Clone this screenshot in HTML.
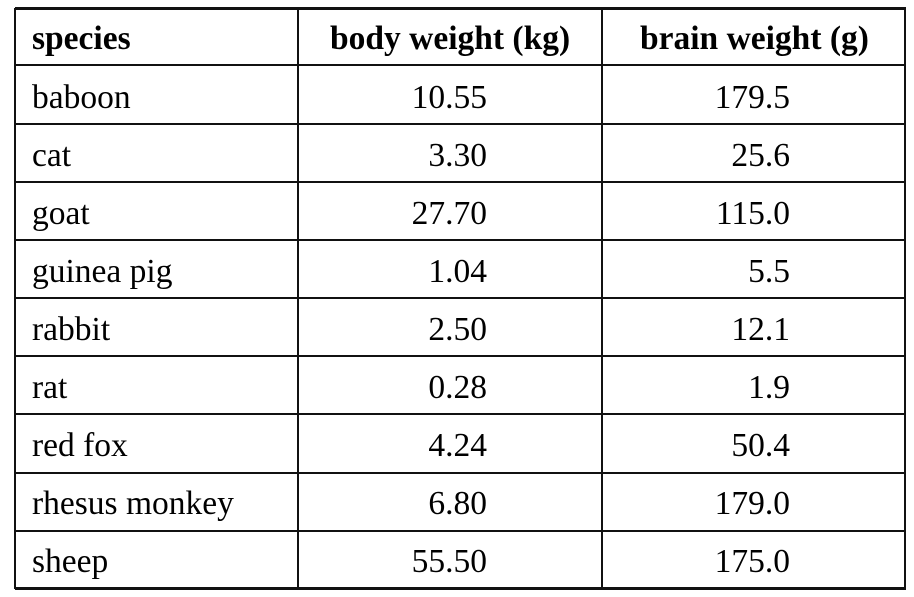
<!DOCTYPE html>
<html><head><style>
body{margin:0;width:914px;height:597px;background:#fff;position:relative;overflow:hidden;font-family:"Liberation Serif",serif;color:#000}
.h{position:absolute;left:15px;width:891px;height:2px;background:#111}
.v{position:absolute;top:8px;height:581px;width:2px;background:#111}
.t{position:absolute;font-size:33.5px;line-height:32px;white-space:pre}
.b{font-weight:bold}
.r2{right:427px;text-align:right}
.r3{right:124px;text-align:right}
</style></head><body>
<div class="h" style="top:7px;height:3px"></div>
<div class="h" style="top:64px"></div>
<div class="h" style="top:123px"></div>
<div class="h" style="top:181px"></div>
<div class="h" style="top:239px"></div>
<div class="h" style="top:297px"></div>
<div class="h" style="top:355px"></div>
<div class="h" style="top:413px"></div>
<div class="h" style="top:472px"></div>
<div class="h" style="top:530px"></div>
<div class="h" style="top:587px;height:3px"></div>
<div class="v" style="left:14px"></div>
<div class="v" style="left:297px"></div>
<div class="v" style="left:601px"></div>
<div class="v" style="left:904px"></div>

<div class="t b" style="left:32px;top:23px">species</div>
<div class="t b" style="left:330px;top:23px">body weight (kg)</div>
<div class="t b" style="left:640px;top:23px">brain weight (g)</div>

<div class="t" style="left:32px;top:82px">baboon</div>
<div class="t r2" style="top:82px">10.55</div>
<div class="t r3" style="top:82px">179.5</div>

<div class="t" style="left:32px;top:140px">cat</div>
<div class="t r2" style="top:140px">3.30</div>
<div class="t r3" style="top:140px">25.6</div>

<div class="t" style="left:32px;top:198px">goat</div>
<div class="t r2" style="top:198px">27.70</div>
<div class="t r3" style="top:198px">115.0</div>

<div class="t" style="left:32px;top:256px">guinea pig</div>
<div class="t r2" style="top:256px">1.04</div>
<div class="t r3" style="top:256px">5.5</div>

<div class="t" style="left:32px;top:314px">rabbit</div>
<div class="t r2" style="top:314px">2.50</div>
<div class="t r3" style="top:314px">12.1</div>

<div class="t" style="left:32px;top:372px">rat</div>
<div class="t r2" style="top:372px">0.28</div>
<div class="t r3" style="top:372px">1.9</div>

<div class="t" style="left:32px;top:430px">red fox</div>
<div class="t r2" style="top:430px">4.24</div>
<div class="t r3" style="top:430px">50.4</div>

<div class="t" style="left:32px;top:488px">rhesus monkey</div>
<div class="t r2" style="top:488px">6.80</div>
<div class="t r3" style="top:488px">179.0</div>

<div class="t" style="left:32px;top:546px">sheep</div>
<div class="t r2" style="top:546px">55.50</div>
<div class="t r3" style="top:546px">175.0</div>
</body></html>
